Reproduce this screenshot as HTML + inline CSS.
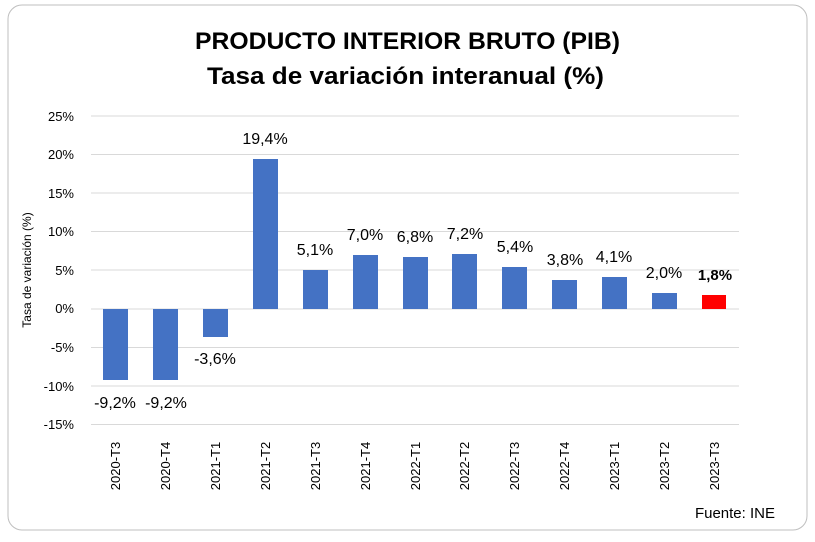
<!DOCTYPE html>
<html><head><meta charset="utf-8"><style>
body{margin:0;background:#fff;width:815px;height:537px;overflow:hidden;font-family:"Liberation Sans",sans-serif}
</style></head><body>
<svg width="815" height="537" viewBox="0 0 815 537" xmlns="http://www.w3.org/2000/svg" font-family="Liberation Sans, sans-serif">
<rect x="8" y="5" width="799" height="525" rx="14" fill="#fff" stroke="#bfbfbf" stroke-width="1"/>
<text x="195" y="49" font-size="24" font-weight="bold" textLength="425" lengthAdjust="spacingAndGlyphs">PRODUCTO INTERIOR BRUTO (PIB)</text>
<text x="207" y="84" font-size="24" font-weight="bold" textLength="397" lengthAdjust="spacingAndGlyphs">Tasa de variación interanual (%)</text>
<g stroke="#d9d9d9" stroke-width="1">
<line x1="91" x2="739" y1="116" y2="116"/><line x1="91" x2="739" y1="154.5" y2="154.5"/>
<line x1="91" x2="739" y1="193" y2="193"/><line x1="91" x2="739" y1="231.5" y2="231.5"/>
<line x1="91" x2="739" y1="270" y2="270"/><line x1="91" x2="739" y1="309" y2="309"/>
<line x1="91" x2="739" y1="347.5" y2="347.5"/><line x1="91" x2="739" y1="386" y2="386"/>
<line x1="91" x2="739" y1="424.5" y2="424.5"/>
</g>
<g font-size="13" text-anchor="end" fill="#000">
<text x="74" y="121">25%</text><text x="74" y="159">20%</text><text x="74" y="198">15%</text>
<text x="74" y="236">10%</text><text x="74" y="275">5%</text><text x="74" y="313">0%</text>
<text x="74" y="352">-5%</text><text x="74" y="391">-10%</text><text x="74" y="429">-15%</text>
</g>
<text transform="translate(31,270) rotate(-90)" text-anchor="middle" font-size="12">Tasa de variación (%)</text>
<g fill="#4472c4">
<rect x="103" y="309" width="25" height="71"/>
<rect x="153" y="309" width="25" height="71"/>
<rect x="203" y="309" width="25" height="28"/>
<rect x="253" y="159" width="25" height="150"/>
<rect x="303" y="270" width="25" height="39"/>
<rect x="353" y="255" width="25" height="54"/>
<rect x="403" y="257" width="25" height="52"/>
<rect x="452" y="254" width="25" height="55"/>
<rect x="502" y="267" width="25" height="42"/>
<rect x="552" y="280" width="25" height="29"/>
<rect x="602" y="277" width="25" height="32"/>
<rect x="652" y="293" width="25" height="16"/>
</g>
<rect x="702" y="295" width="24" height="14" fill="#ff0000"/>
<g font-size="16" text-anchor="middle">
<text x="115" y="408">-9,2%</text><text x="166" y="408">-9,2%</text><text x="215" y="364">-3,6%</text>
<text x="265" y="144">19,4%</text><text x="315" y="255">5,1%</text><text x="365" y="240">7,0%</text>
<text x="415" y="242">6,8%</text><text x="465" y="239">7,2%</text><text x="515" y="252">5,4%</text>
<text x="565" y="265">3,8%</text><text x="614" y="262">4,1%</text><text x="664" y="278">2,0%</text>
<text x="715" y="280" font-weight="bold" font-size="15">1,8%</text>
</g>
<g font-size="13" text-anchor="middle">
<text transform="translate(120,466) rotate(-90)">2020-T3</text>
<text transform="translate(170,466) rotate(-90)">2020-T4</text>
<text transform="translate(220,466) rotate(-90)">2021-T1</text>
<text transform="translate(270,466) rotate(-90)">2021-T2</text>
<text transform="translate(320,466) rotate(-90)">2021-T3</text>
<text transform="translate(370,466) rotate(-90)">2021-T4</text>
<text transform="translate(420,466) rotate(-90)">2022-T1</text>
<text transform="translate(469,466) rotate(-90)">2022-T2</text>
<text transform="translate(519,466) rotate(-90)">2022-T3</text>
<text transform="translate(569,466) rotate(-90)">2022-T4</text>
<text transform="translate(619,466) rotate(-90)">2023-T1</text>
<text transform="translate(669,466) rotate(-90)">2023-T2</text>
<text transform="translate(719,466) rotate(-90)">2023-T3</text>
</g>
<text x="775" y="518" text-anchor="end" font-size="15">Fuente: INE</text>
</svg>
</body></html>
